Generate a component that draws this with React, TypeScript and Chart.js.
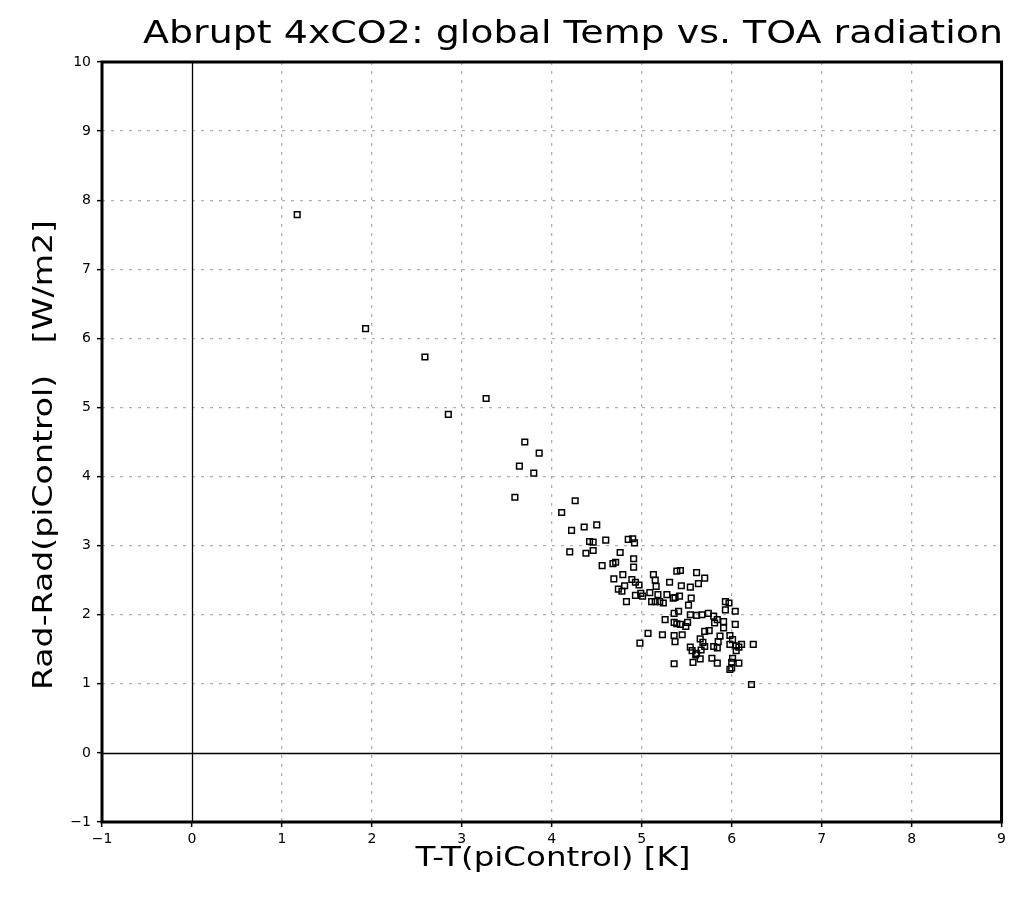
import React, { useEffect, useRef } from 'react';
import { Chart, registerables } from 'chart.js';

Chart.register(...registerables);

const TITLE = 'Abrupt 4xCO2: global Temp vs. TOA radiation';
const X_TITLE = 'T-T(piControl) [K]';
const Y_TITLE = 'Rad-Rad(piControl)   [W/m2]';

const X_TICKS = [-1, 0, 1, 2, 3, 4, 5, 6, 7, 8, 9];
const Y_TICKS = [-1, 0, 1, 2, 3, 4, 5, 6, 7, 8, 9, 10];

// global mean temperature anomaly [K]
const tempAnomaly = [
  1.17, 1.93, 2.59, 2.85, 3.27, 3.70, 3.86, 3.64, 3.80, 3.59,
  4.26, 4.11, 4.22, 4.36, 4.50, 4.42, 4.46, 4.46, 4.20, 4.38,
  4.60, 4.85, 4.90, 4.92, 4.76, 4.56, 4.68, 4.71, 4.91, 4.91,
  4.79, 4.69, 4.74, 4.81, 4.78, 4.89, 4.93, 4.97, 4.83, 4.93,
  4.99, 5.01, 5.09, 5.13, 5.15, 5.16, 5.18, 5.11, 5.15, 5.20,
  5.24, 5.28, 5.31, 5.39, 5.43, 5.44, 5.37, 5.42, 5.35, 5.54,
  5.61, 5.63, 5.70, 5.55, 5.52, 5.41, 5.36, 5.26, 5.36, 5.39,
  5.43, 5.49, 5.51, 5.54, 5.61, 5.67, 5.74, 5.80, 5.84, 5.81,
  5.93, 5.97, 5.93, 6.04, 5.91, 6.04, 5.91, 5.07, 4.98, 5.23,
  5.36, 5.37, 5.45, 5.54, 5.56, 5.61, 5.65, 5.70, 5.75, 5.68,
  5.70, 5.66, 5.85, 5.84, 5.87, 5.80, 5.98, 6.01, 5.98, 6.05,
  6.08, 6.11, 6.05, 6.24, 5.60, 5.57, 5.65, 5.78, 5.84, 6.01,
  6.00, 6.08, 5.36, 5.98, 6.00, 6.22,
];

// TOA net radiation anomaly [W/m2]
const radAnomaly = [
  7.79, 6.14, 5.73, 4.90, 5.13, 4.50, 4.34, 4.15, 4.05, 3.70,
  3.65, 3.48, 3.22, 3.27, 3.30, 3.06, 3.05, 2.93, 2.91, 2.89,
  3.08, 3.09, 3.10, 3.04, 2.90, 2.71, 2.74, 2.76, 2.81, 2.69,
  2.58, 2.52, 2.37, 2.42, 2.34, 2.51, 2.47, 2.43, 2.19, 2.28,
  2.31, 2.27, 2.32, 2.58, 2.50, 2.41, 2.29, 2.19, 2.19, 2.19,
  2.17, 2.29, 2.47, 2.63, 2.64, 2.42, 2.25, 2.27, 2.24, 2.40,
  2.61, 2.45, 2.53, 2.24, 2.14, 2.05, 2.02, 1.93, 1.89, 1.87,
  1.86, 1.83, 1.89, 2.00, 1.99, 2.00, 2.02, 1.98, 1.93, 1.88,
  2.19, 2.17, 2.07, 2.05, 1.90, 1.86, 1.81, 1.73, 1.59, 1.71,
  1.70, 1.61, 1.71, 1.53, 1.48, 1.44, 1.65, 1.76, 1.77, 1.60,
  1.54, 1.49, 1.61, 1.52, 1.69, 1.54, 1.70, 1.64, 1.57, 1.55,
  1.53, 1.57, 1.48, 1.57, 1.42, 1.31, 1.36, 1.37, 1.30, 1.37,
  1.31, 1.30, 1.29, 1.21, 1.23, 0.99,
];

const FONT = '"DejaVu Sans", sans-serif';

function fitText(
  ctx: CanvasRenderingContext2D,
  text: string,
  cx: number,
  baseline: number,
  width: number,
  size: number,
  rotate = false
) {
  ctx.save();
  ctx.font = `${size}px ${FONT}`;
  const w = ctx.measureText(text).width;
  ctx.translate(cx, baseline);
  if (rotate) ctx.rotate(-Math.PI / 2);
  ctx.scale(width / w, 1);
  ctx.textAlign = 'center';
  ctx.textBaseline = 'alphabetic';
  ctx.fillStyle = '#000';
  ctx.fillText(text, 0, 0);
  ctx.restore();
}

const decor = {
  id: 'decor',
  afterDraw(chart: any) {
    const { ctx, chartArea: a, scales } = chart;
    const px = Math.round(scales.x.getPixelForValue(0)) + 0.5;
    const py = Math.round(scales.y.getPixelForValue(0)) + 0.5;
    ctx.save();
    ctx.setLineDash([]);
    ctx.strokeStyle = '#000';
    ctx.lineWidth = 1.3;
    ctx.beginPath();
    ctx.moveTo(px, a.top);
    ctx.lineTo(px, a.bottom);
    ctx.moveTo(a.left, py);
    ctx.lineTo(a.right, py);
    ctx.stroke();
    ctx.lineWidth = 3;
    ctx.strokeRect(a.left, a.top, a.right - a.left, a.bottom - a.top);
    ctx.restore();
    fitText(ctx, TITLE, 573, 43, 860, 32);
    fitText(ctx, X_TITLE, 553, 866, 275, 27);
    fitText(ctx, Y_TITLE, 52, 455, 470, 27, true);
  },
};

const gridColor = (c: any) => (c.tick && c.tick.value === 0 ? 'rgba(0,0,0,0)' : '#b0b0b0');

export default function App() {
  const ref = useRef<HTMLCanvasElement | null>(null);

  useEffect(() => {
    if (!ref.current) return;
    const data = tempAnomaly.map((t, i) => ({ x: t, y: radAnomaly[i] }));
    const fmt = (v: any) => (Number(v) < 0 ? '\u2212' + Math.abs(Number(v)) : String(v));
    const chart = new Chart(ref.current, {
      type: 'scatter',
      data: {
        datasets: [
          {
            data,
            pointStyle: 'rect',
            pointRadius: 4,
            pointHoverRadius: 4,
            borderWidth: 1.5,
            borderColor: '#000',
            backgroundColor: 'rgba(0,0,0,0)',
          },
        ],
      },
      options: {
        responsive: false,
        animation: false,
        events: [],
        layout: { padding: { top: 62, right: 8, left: 0, bottom: 0 } },
        plugins: {
          legend: { display: false },
          tooltip: { enabled: false },
          title: { display: false },
        },
        scales: {
          x: {
            type: 'linear',
            min: -1,
            max: 9,
            afterFit: (s: any) => {
              s.height = 77;
            },
            afterBuildTicks: (s: any) => {
              s.ticks = X_TICKS.map((v) => ({ value: v }));
            },
            ticks: {
              callback: fmt,
              color: '#000',
              font: { family: FONT, size: 14 },
              padding: 4,
              maxRotation: 0,
              autoSkip: false,
            },
            grid: {
              color: gridColor,
              lineWidth: 1.3,
              drawTicks: true,
              tickLength: 5,
              tickColor: '#000',
              tickWidth: 1.5,
            },
            border: { display: false, dash: [3, 6] },
          },
          y: {
            type: 'linear',
            min: -1,
            max: 10,
            afterFit: (s: any) => {
              s.width = 102;
            },
            afterBuildTicks: (s: any) => {
              s.ticks = Y_TICKS.map((v) => ({ value: v }));
            },
            ticks: {
              callback: fmt,
              color: '#000',
              font: { family: FONT, size: 14 },
              padding: 6,
              autoSkip: false,
            },
            grid: {
              color: gridColor,
              lineWidth: 1.3,
              drawTicks: true,
              tickLength: 5,
              tickColor: '#000',
              tickWidth: 1.5,
            },
            border: { display: false, dash: [3, 6] },
          },
        },
      },
      plugins: [decor],
    });
    return () => chart.destroy();
  }, []);

  return (
    <div style={{ position: 'absolute', left: 0, top: 0, width: 1010, height: 899, background: '#fff' }}>
      <canvas ref={ref} width={1010} height={899} />
    </div>
  );
}
